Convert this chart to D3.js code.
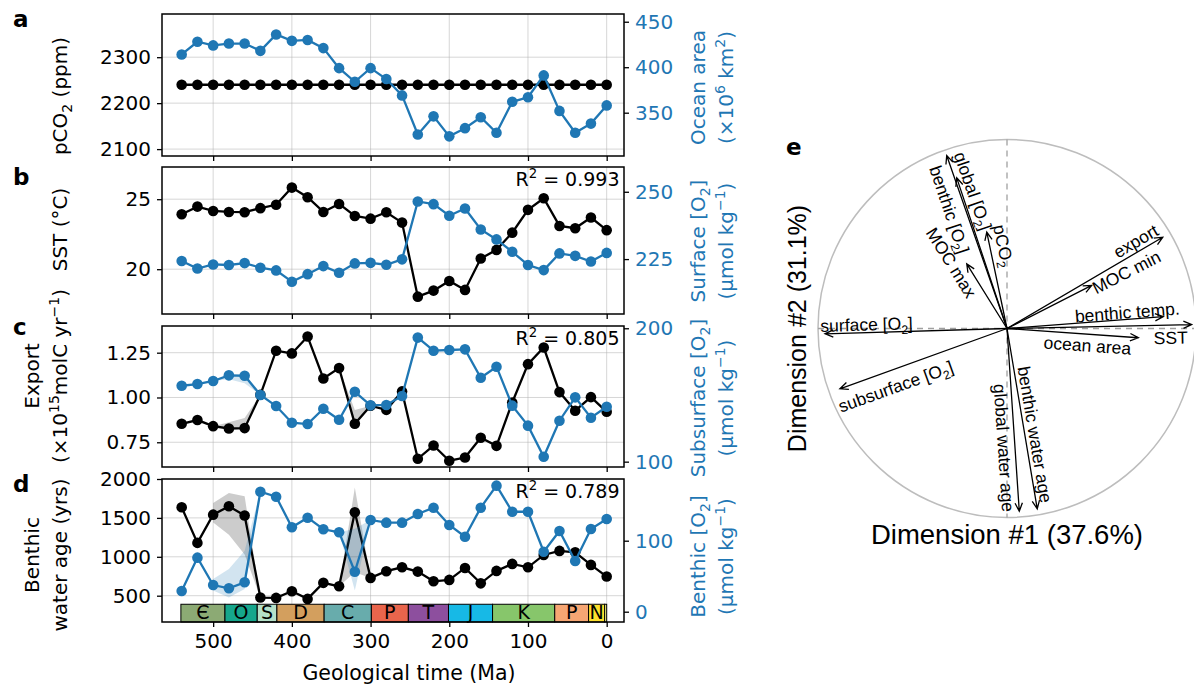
<!DOCTYPE html>
<html>
<head>
<meta charset="utf-8">
<script src="https://cdn.jsdelivr.net/npm/d3@7"></script>
<style>
  body { margin: 0; background: #fff; }
</style>
</head>
<body>
<svg id="fig" width="1194" height="689"></svg>
<script>
// ---- data ----
var times = [540, 520, 500, 480, 460, 440, 420, 400, 380, 360, 340, 320, 300, 280,
             260, 240, 220, 200, 180, 160, 140, 120, 100, 80, 60, 40, 20, 0];
var pco2 = [2240, 2240, 2240, 2240, 2240, 2240, 2240, 2240, 2240, 2240, 2240, 2240, 2240, 2240,
            2240, 2240, 2240, 2240, 2240, 2240, 2240, 2240, 2240, 2240, 2240, 2240, 2240, 2240];
var oceanArea = [414, 428, 424, 426, 426, 418, 436, 429, 430, 421, 399, 384, 399, 387,
                 369, 326, 346, 324, 333, 345, 328, 362, 367, 391, 352, 328, 338, 358];
var sst = [23.93, 24.47, 24.16, 24.09, 24.07, 24.36, 24.60, 25.83, 25.14, 24.09, 24.66, 23.80, 23.61, 24.07,
           23.33, 18.04, 18.47, 19.16, 18.52, 20.76, 21.38, 22.61, 24.24, 25.07, 23.09, 22.93, 23.69, 22.79];
var surfaceO2 = [224.3, 221.5, 223.0, 222.8, 223.5, 221.8, 220.8, 216.6, 219.4, 222.4, 219.9, 223.4, 223.6, 222.9,
                 224.9, 246.4, 245.4, 241.1, 243.8, 236.0, 232.3, 227.7, 222.8, 220.9, 227.1, 226.2, 224.1, 227.3];
var exportFlux = [0.853, 0.874, 0.840, 0.827, 0.829, 1.015, 1.261, 1.246, 1.340, 1.106, 1.164, 0.853, 0.954, 0.931,
                  1.034, 0.658, 0.732, 0.647, 0.665, 0.775, 0.730, 0.972, 1.186, 1.279, 1.030, 0.926, 1.002, 0.920];
var subsurfaceO2 = [156.9, 158.2, 160.5, 164.7, 164.4, 150.0, 141.7, 129.2, 128.2, 139.7, 131.4, 152.4, 142.2, 142.5,
                    149.2, 193.0, 183.2, 183.7, 184.2, 162.9, 171.2, 142.0, 127.0, 103.7, 130.7, 148.2, 132.9, 141.2];
var waterAge = [1636, 1179, 1542, 1649, 1530, 476, 472, 557, 459, 665, 621, 1572, 729, 815,
                865, 810, 685, 703, 857, 659, 819, 909, 865, 1024, 1076, 1058, 896, 746];
var benthicO2 = [29.2, 76.1, 37.6, 33.0, 41.4, 169.0, 162.0, 118.9, 132.4, 116.1, 111.8, 56.3, 129.2, 125.4,
                 125.4, 137.6, 146.5, 122.1, 105.6, 146.5, 177.5, 140.8, 140.8, 84.5, 113.7, 71.4, 116.5, 130.6];

// min/max envelopes [time, low, high], only where visible
var exportBands = [[[500, 0.840, 0.840], [480, 0.827, 0.862], [460, 0.829, 0.885], [440, 1.015, 1.015]],
                   [[340, 1.164, 1.164], [320, 0.853, 0.930], [300, 0.954, 0.954]]];
var subsurfaceBands = [[[500, 160.5, 160.5], [480, 161.7, 164.7], [460, 158.7, 164.4], [440, 150.0, 150.0]]];
var waterAgeBands = [[[500, 1440, 1690], [480, 1285, 1821], [460, 1028, 1778], [440, 476, 476]],
                     [[340, 621, 621], [320, 800, 1890], [300, 729, 729]]];
var benthicO2Bands = [[[500, 30, 46], [480, 20, 60], [460, 32, 86], [440, 169, 169]],
                      [[340, 111.8, 111.8], [320, 30, 117], [300, 129.2, 129.2]]];

var r2Values = ["0.993", "0.805", "0.789"];

// geological periods
var periodNames = ["\u0404", "O", "S", "D", "C", "P", "T", "J", "K", "P", "N", ""];
var periodStart = [541, 485, 444, 419, 359, 299, 252, 201, 145, 66, 23, 2.58];
var periodEnd = [485, 444, 419, 359, 299, 252, 201, 145, 66, 23, 2.58, 0];
var periodColors = ["#8caa74", "#16a68c", "#b4e0c8", "#d39f5e", "#68acac", "#e9654c",
                    "#8d4f9e", "#17b9e6", "#87c66b", "#f6a673", "#fde02e", "#f9f97f"];

// PCA loadings (dimension 1, dimension 2)
var pcaNames = [
  [["global [O"], ["2", "sub"], ["]"]],
  [["benthic [O"], ["2", "sub"], ["]"]],
  [["pCO"], ["2", "sub"]],
  [["MOC max"]],
  [["export"]],
  [["MOC min"]],
  [["benthic temp."]],
  [["SST"]],
  [["ocean area"]],
  [["surface [O"], ["2", "sub"], ["]"]],
  [["subsurface [O"], ["2", "sub"], ["]"]],
  [["global water age"]],
  [["benthic water age"]]
];
var dim1 = [-0.319, -0.266, -0.107, -0.213, 0.824, 0.448, 0.827, 0.977, 0.695, -0.963, -0.884, 0.065, 0.160];
var dim2 = [0.915, 0.797, 0.510, 0.342, 0.483, 0.228, 0.063, 0.021, -0.049, -0.028, -0.319, -0.967, -0.954];
// label placement: fraction along arrow, perpendicular offset (px)
var labelAlong = [0.77, 0.825, 0.83, 1.12, 0.86, 1.39, 0.773, 0.885, 0.618, 0.77, 0.70, 0.649, 0.597];
var labelOffset = [13.0, -17.0, 13.5, -12.5, -10.2, 4.0, -7.0, 12.8, 11.3, 8.1, -16.9, 11.0, -10.0];

// ---- drawing ----
var BLUE = "#1f77b4";
var MPL_FONT = "DejaVu Sans, sans-serif";
var R_FONT = "Liberation Sans, Arial, sans-serif";
var svg = d3.select("#fig");
var x = d3.scaleLinear().domain([565, -22]).range([162, 624]);
var xTicks = [500, 400, 300, 200, 100, 0];

function rich(t, parts, fs) {
  var shift = 0;
  parts.forEach(function(p) {
    var s = p[1] == "sub" ? fs * 0.25 : (p[1] == "sup" ? -fs * 0.4 : 0);
    t.append("tspan").attr("dy", s - shift).attr("font-size", p[1] ? fs * 0.7 : fs).text(p[0]);
    shift = s;
  });
}

function zip(vals) {
  return times.map(function(t, i) { return [t, vals[i]]; });
}

var panels = [
  { letter: "a", top: 14, bottom: 156,
    leftDomain: [2085, 2394], leftTicks: [2100, 2200, 2300], leftFmt: d3.format("d"),
    rightDomain: [302.4, 458.5], rightTicks: [350, 400, 450], rightFmt: d3.format("d"),
    black: pco2, blue: oceanArea,
    leftLabel: [[["pCO"], ["2", "sub"], [" (ppm)"]]], leftCy: 96,
    rightLabel: [[["Ocean area"]], [["(\u00d710"], ["6", "sup"], [" km"], ["2", "sup"], [")"]]], rightCy: 87.5 },
  { letter: "b", top: 167, bottom: 314,
    leftDomain: [16.8, 27.3], leftTicks: [20, 25], leftFmt: d3.format("d"),
    rightDomain: [204.6, 259.2], rightTicks: [225, 250], rightFmt: d3.format("d"),
    black: sst, blue: surfaceO2, r2: r2Values[0],
    leftLabel: [[["SST (\u00b0C)"]]], leftCy: 229.5,
    rightLabel: [[["Surface [O"], ["2", "sub"], ["]"]], [["(\u03bcmol kg"], ["\u22121", "sup"], [")"]]], rightCy: 241 },
  { letter: "c", top: 326, bottom: 467,
    leftDomain: [0.612, 1.399], leftTicks: [0.75, 1.00, 1.25], leftFmt: d3.format(".2f"),
    rightDomain: [96.0, 201.7], rightTicks: [100, 200], rightFmt: d3.format("d"),
    black: exportFlux, blue: subsurfaceO2, blackBands: exportBands, blueBands: subsurfaceBands, r2: r2Values[1],
    leftLabel: [[["Export"]], [["(\u00d710"], ["15", "sup"], ["molC yr"], ["\u22121", "sup"], [")"]]], leftCy: 376,
    rightLabel: [[["Subsurface [O"], ["2", "sub"], ["]"]], [["(\u03bcmol kg"], ["\u22121", "sup"], [")"]]], rightCy: 398 },
  { letter: "d", top: 479, bottom: 622,
    leftDomain: [162, 2000], leftTicks: [500, 1000, 1500, 2000], leftFmt: d3.format("d"),
    rightDomain: [-14.5, 186.9], rightTicks: [0, 100], rightFmt: d3.format("d"),
    black: waterAge, blue: benthicO2, blackBands: waterAgeBands, blueBands: benthicO2Bands, r2: r2Values[2],
    periods: true, xLabels: true,
    leftLabel: [[["Benthic"]], [["water age (yrs)"]]], leftCy: 555,
    rightLabel: [[["Benthic [O"], ["2", "sub"], ["]"]], [["(\u03bcmol kg"], ["\u22121", "sup"], [")"]]], rightCy: 556.5 }
];

var letterBase = { a: 27, b: 185, c: 335, d: 492 };

function drawBands(g, bands, y, color) {
  if (!bands) return;
  var area = d3.area().x(function(d) { return x(d[0]); })
    .y0(function(d) { return y(d[1]); }).y1(function(d) { return y(d[2]); });
  g.selectAll(null).data(bands).join("path")
    .attr("d", area).attr("fill", color).attr("fill-opacity", 0.2).attr("stroke", "none");
}

function drawSeries(g, vals, y, color) {
  var pts = zip(vals);
  g.append("path").datum(pts)
    .attr("d", d3.line().x(function(d) { return x(d[0]); }).y(function(d) { return y(d[1]); }))
    .attr("fill", "none").attr("stroke", color).attr("stroke-width", 2.3);
  g.selectAll(null).data(pts).join("circle")
    .attr("cx", function(d) { return x(d[0]); }).attr("cy", function(d) { return y(d[1]); })
    .attr("r", 5.3).attr("fill", color);
}

var left = svg.append("g").attr("font-family", MPL_FONT);

panels.forEach(function(p) {
  var g = left.append("g");
  var yl = d3.scaleLinear().domain(p.leftDomain).range([p.bottom, p.top]);
  var yr = d3.scaleLinear().domain(p.rightDomain).range([p.bottom, p.top]);

  // grid
  g.selectAll(null).data(xTicks).join("line")
    .attr("x1", function(d) { return x(d); }).attr("x2", function(d) { return x(d); })
    .attr("y1", p.top).attr("y2", p.bottom)
    .attr("stroke", "#b0b0b0").attr("stroke-opacity", 0.5).attr("stroke-width", 1);
  g.selectAll(null).data(p.leftTicks).join("line")
    .attr("x1", 162).attr("x2", 624)
    .attr("y1", function(d) { return yl(d); }).attr("y2", function(d) { return yl(d); })
    .attr("stroke", "#b0b0b0").attr("stroke-opacity", 0.5).attr("stroke-width", 1);

  drawBands(g, p.blackBands, yl, "#000");
  drawSeries(g, p.black, yl, "#000");

  if (p.periods) {
    var pg = g.append("g");
    var yTop = 390;
    pg.selectAll("rect").data(periodNames).join("rect")
      .attr("x", function(d, i) { return x(periodStart[i]); })
      .attr("width", function(d, i) { return x(periodEnd[i]) - x(periodStart[i]); })
      .attr("y", yl(yTop)).attr("height", yl(p.leftDomain[0]) - yl(yTop))
      .attr("fill", function(d, i) { return periodColors[i]; })
      .attr("stroke", "#000").attr("stroke-width", 1);
    pg.selectAll("text").data(periodNames).join("text")
      .attr("x", function(d, i) { return (x(periodStart[i]) + x(periodEnd[i])) / 2; })
      .attr("y", p.bottom - 3.5)
      .attr("text-anchor", "middle").attr("font-size", 19).attr("fill", "#000")
      .text(function(d) { return d; });
  }

  drawBands(g, p.blueBands, yr, BLUE);
  drawSeries(g, p.blue, yr, BLUE);

  // frame
  g.append("rect").attr("x", 162).attr("y", p.top).attr("width", 462).attr("height", p.bottom - p.top)
    .attr("fill", "none").attr("stroke", "#000").attr("stroke-width", 1.5);

  // axes
  var al = g.append("g").attr("transform", "translate(162,0)")
    .call(d3.axisLeft(yl).tickValues(p.leftTicks).tickFormat(p.leftFmt).tickSize(5).tickPadding(6));
  var ar = g.append("g").attr("transform", "translate(624,0)")
    .call(d3.axisRight(yr).tickValues(p.rightTicks).tickFormat(p.rightFmt).tickSize(5).tickPadding(6));
  var ab = g.append("g").attr("transform", "translate(0," + p.bottom + ")")
    .call(d3.axisBottom(x).tickValues(xTicks).tickFormat(p.xLabels ? d3.format("d") : function() { return ""; })
      .tickSize(5).tickPadding(7));
  [al, ar, ab].forEach(function(a) {
    a.attr("font-family", MPL_FONT).attr("font-size", 20);
    a.select(".domain").remove();
    a.selectAll(".tick line").attr("stroke", "#000").attr("stroke-width", 1.3);
    a.selectAll(".tick text").attr("fill", "#000");
  });
  ar.selectAll(".tick text").attr("fill", BLUE);

  // axis labels
  var lx = p.leftLabel.length == 1 ? [67] : [39, 67];
  p.leftLabel.forEach(function(parts, i) {
    var t = g.append("text").attr("transform", "translate(" + lx[i] + "," + p.leftCy + ") rotate(-90)")
      .attr("text-anchor", "middle").attr("font-size", 20).attr("fill", "#000");
    rich(t, parts, 20);
  });
  var rx = [705, 733];
  p.rightLabel.forEach(function(parts, i) {
    var t = g.append("text").attr("transform", "translate(" + rx[i] + "," + p.rightCy + ") rotate(-90)")
      .attr("text-anchor", "middle").attr("font-size", 20).attr("fill", BLUE);
    rich(t, parts, 20);
  });

  if (p.r2) {
    var t = g.append("text").attr("x", 619.5).attr("y", p.top + 18.5)
      .attr("text-anchor", "end").attr("font-size", 19).attr("fill", "#000");
    rich(t, [["R"], ["2", "sup"], [" = " + p.r2]], 19);
  }

  left.append("text").attr("x", 13).attr("y", letterBase[p.letter])
    .attr("font-size", 23).attr("font-weight", "bold").attr("fill", "#000").text(p.letter);
});

left.append("text").attr("x", 409).attr("y", 680).attr("text-anchor", "middle")
  .attr("font-size", 20.5).attr("fill", "#000").text("Geological time (Ma)");

// ---- panel e: PCA correlation circle ----
var ex = d3.scaleLinear().domain([-1, 1]).range([818, 1196]);
var ey = d3.scaleLinear().domain([-1, 1]).range([517.5, 139.5]);
var eg = svg.append("g").attr("font-family", R_FONT);
var cx = ex(0), cy = ey(0), rad = ex(1) - ex(0);

eg.append("circle").attr("cx", cx).attr("cy", cy).attr("r", rad)
  .attr("fill", "none").attr("stroke", "#bdbdbd").attr("stroke-width", 1.5);
eg.append("line").attr("x1", ex(-1)).attr("x2", ex(1)).attr("y1", cy).attr("y2", cy)
  .attr("stroke", "#a0a0a0").attr("stroke-width", 1.3).attr("stroke-dasharray", "6,5");
eg.append("line").attr("x1", cx).attr("x2", cx).attr("y1", ey(1)).attr("y2", ey(-1))
  .attr("stroke", "#a0a0a0").attr("stroke-width", 1.3).attr("stroke-dasharray", "6,5");

var LFS = 17.5;
pcaNames.forEach(function(parts, i) {
  var tx = ex(dim1[i]), ty = ey(dim2[i]);
  var vx = tx - cx, vy = ty - cy;
  var len = Math.sqrt(vx * vx + vy * vy);
  var ux = vx / len, uy = vy / len;
  var ang = Math.atan2(vy, vx);
  var head = 9, spread = 0.42;
  eg.append("path")
    .attr("d", "M" + cx + "," + cy + "L" + tx + "," + ty +
      "M" + (tx - head * Math.cos(ang - spread)) + "," + (ty - head * Math.sin(ang - spread)) +
      "L" + tx + "," + ty +
      "L" + (tx - head * Math.cos(ang + spread)) + "," + (ty - head * Math.sin(ang + spread)))
    .attr("fill", "none").attr("stroke", "#000").attr("stroke-width", 1.3);

  var px = -uy, py = ux;
  var lxp = cx + labelAlong[i] * vx + labelOffset[i] * px;
  var lyp = cy + labelAlong[i] * vy + labelOffset[i] * py;
  var deg = ang * 180 / Math.PI;
  if (deg > 90) deg -= 180;
  if (deg <= -90) deg += 180;
  var t = eg.append("text").attr("transform", "translate(" + lxp + "," + lyp + ") rotate(" + deg + ")")
    .attr("y", LFS * 0.35).attr("text-anchor", "middle").attr("font-size", LFS).attr("fill", "#000");
  rich(t, parts, LFS);
});

eg.append("text").attr("x", cx).attr("y", 544).attr("text-anchor", "middle")
  .attr("font-size", 27.5).attr("fill", "#000").text("Dimension #1 (37.6%)");
eg.append("text").attr("transform", "translate(806," + cy + ") rotate(-90)").attr("text-anchor", "middle")
  .attr("font-size", 25).attr("fill", "#000").text("Dimension #2 (31.1%)");
left.append("text").attr("x", 786).attr("y", 155)
  .attr("font-size", 23).attr("font-weight", "bold").attr("fill", "#000").text("e");
</script>
</body>
</html>
